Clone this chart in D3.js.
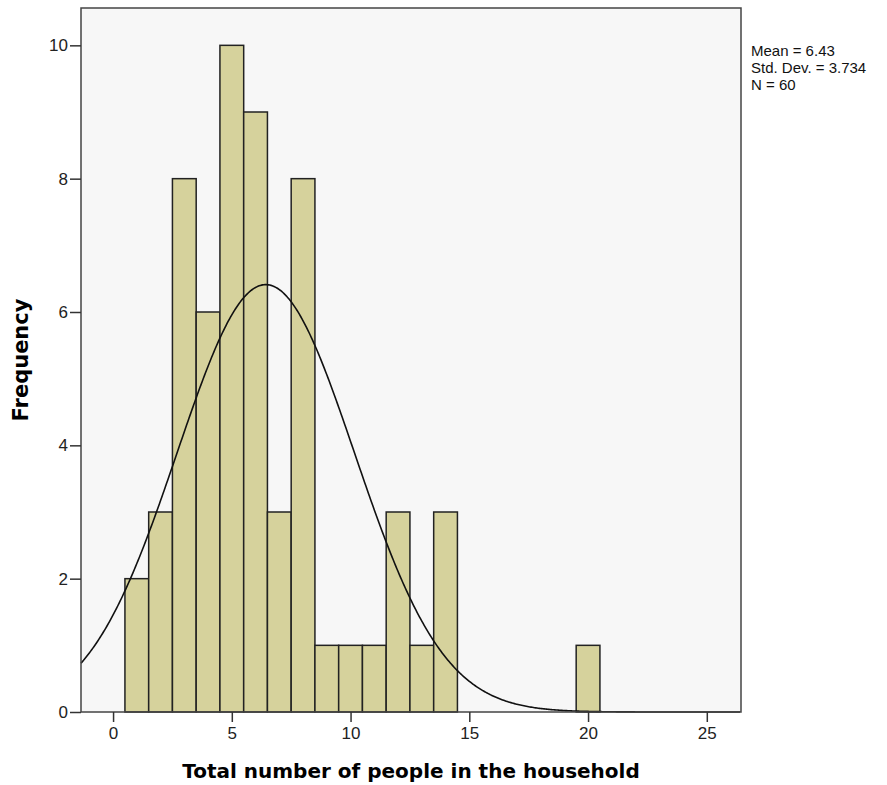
<!DOCTYPE html>
<html>
<head>
<meta charset="utf-8">
<script src="https://cdn.jsdelivr.net/npm/d3@7"></script>
<style>
  body { margin: 0; background: #fff; }
  .tick text { font-family: "Liberation Sans", Arial, sans-serif; font-size: 17px; fill: #222; }
  .bar { fill: #d6d29c; stroke: #222; stroke-width: 1.5; }
</style>
</head>
<body>
<svg id="chart" width="887" height="785"></svg>
<script>
// household sizes (bin centres) and counts
var sizes = [1, 2, 3, 4, 5, 6, 7, 8, 9, 10, 11, 12, 13, 14, 20]
var counts = [2, 3, 8, 6, 10, 9, 3, 8, 1, 1, 1, 3, 1, 3, 1]
var xTicks = [0, 5, 10, 15, 20, 25]
var yTicks = [0, 2, 4, 6, 8, 10]
var stats = { mean: 6.43, sd: 3.734, n: 60 }
var statLines = ["Mean = 6.43", "Std. Dev. = 3.734", "N = 60"]

var margin = { top: 8, right: 146, bottom: 73, left: 81 }
var width = 887 - margin.left - margin.right
var height = 785 - margin.top - margin.bottom

var svg = d3.select("#chart")
var g = svg.append("g").attr("transform", "translate(" + margin.left + "," + margin.top + ")")

var x = d3.scaleLinear().domain([-1.35, 26.44]).range([0, width])
var y = d3.scaleLinear().domain([0, 10.56]).range([height, 0])

g.append("rect")
  .attr("width", width).attr("height", height)
  .attr("fill", "#f7f7f7")

var data = sizes.map(function (s, i) { return { size: s, count: counts[i] } })

g.selectAll(".bar")
  .data(data)
  .enter().append("rect")
  .attr("class", "bar")
  .attr("x", function (d) { return x(d.size - 0.5) })
  .attr("y", function (d) { return y(d.count) })
  .attr("width", function (d) { return x(d.size + 0.5) - x(d.size - 0.5) })
  .attr("height", function (d) { return height - y(d.count) })

// fitted normal curve, scaled to counts per unit bin
var pts = d3.range(-1.35, 26.44, 0.05).map(function (v) {
  var z = (v - stats.mean) / stats.sd
  return [v, stats.n / (stats.sd * Math.sqrt(2 * Math.PI)) * Math.exp(-0.5 * z * z)]
})
g.append("path")
  .datum(pts)
  .attr("fill", "none")
  .attr("stroke", "#111")
  .attr("stroke-width", 1.6)
  .attr("d", d3.line().x(function (d) { return x(d[0]) }).y(function (d) { return y(d[1]) }))

g.append("rect")
  .attr("width", width).attr("height", height)
  .attr("fill", "none").attr("stroke", "#444").attr("stroke-width", 1.5)

var xAxis = g.append("g")
  .attr("transform", "translate(0," + height + ")")
  .call(d3.axisBottom(x).tickValues(xTicks).tickSize(10).tickPadding(5))
xAxis.select(".domain").remove()
xAxis.selectAll(".tick line").attr("stroke", "#333").attr("stroke-width", 1.5)

var yAxis = g.append("g")
  .call(d3.axisLeft(y).tickValues(yTicks).tickSize(11).tickPadding(2))
yAxis.select(".domain").remove()
yAxis.selectAll(".tick line").attr("stroke", "#333").attr("stroke-width", 1.5)

svg.append("text")
  .attr("x", 411).attr("y", 778)
  .attr("text-anchor", "middle")
  .style("font-family", "'DejaVu Sans', Verdana, sans-serif")
  .style("font-weight", "bold").style("font-size", "20px")
  .text("Total number of people in the household")

svg.append("text")
  .attr("transform", "translate(28,360) rotate(-90)")
  .attr("text-anchor", "middle")
  .style("font-family", "'DejaVu Sans', Verdana, sans-serif")
  .style("font-weight", "bold").style("font-size", "21px")
  .text("Frequency")

svg.append("g")
  .selectAll("text")
  .data(statLines)
  .enter().append("text")
  .attr("x", 751)
  .attr("y", function (d, i) { return 56 + i * 17 })
  .style("font-family", "'Liberation Sans', Arial, sans-serif")
  .style("font-size", "15px")
  .attr("fill", "#111")
  .text(function (d) { return d })
</script>
</body>
</html>
